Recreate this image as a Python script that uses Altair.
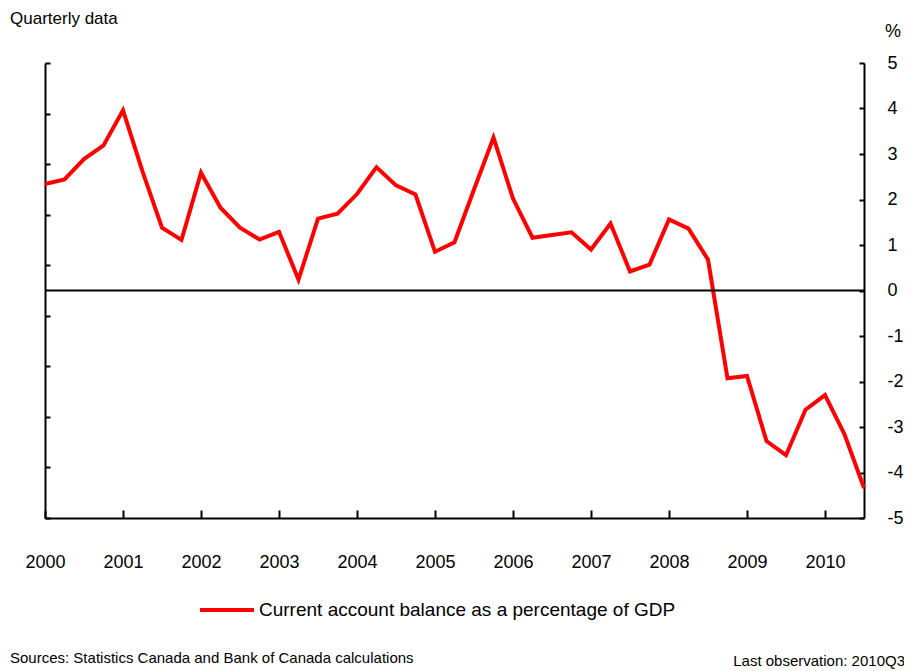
import altair as alt
import pandas as pd

# ---- data ----
quarters = [f"{y}Q{q}" for y in range(2000, 2011) for q in range(1, 5)][:43]
values = [2.34, 2.44, 2.89, 3.19,
          3.96, 2.62, 1.38, 1.11,
          2.59, 1.82, 1.38, 1.12,
          1.29, 0.24, 1.58, 1.69,
          2.12, 2.71, 2.31, 2.11,
          0.85, 1.06, 2.22, 3.36,
          2.02, 1.16, 1.22, 1.28,
          0.90, 1.47, 0.42, 0.57,
          1.56, 1.36, 0.68, -1.93,
          -1.88, -3.31, -3.62, -2.62,
          -2.30, -3.16, -4.34]
series_name = "Current account balance as a percentage of GDP"
year_ticks = list(range(2000, 2011))
right_ticks = list(range(-5, 6))
left_ticks = list(range(0, 10))
title_text = ["Quarterly data"]
unit_text = ["%"]
source_text = ["Sources: Statistics Canada and Bank of Canada calculations"]
lastobs_text = ["Last observation: 2010Q3"]

df = pd.DataFrame({
    "quarter": quarters,
    "t": [int(q[:4]) + (int(q[-1]) - 1) / 4 for q in quarters],
    "value": values,
    "series": series_name,
})

FONT = "Liberation Sans"

xscale = alt.Scale(domain=[2000, 2010.5], nice=False, zero=False)

line = alt.Chart(df).mark_line(strokeWidth=4, strokeJoin="miter").encode(
    x=alt.X("t:Q", scale=xscale,
            axis=alt.Axis(values=year_ticks, format="d", title=None, grid=False,
                          tickSize={"expr": "-8"}, tickWidth=2, tickColor="black",
                          domainWidth=2, domainColor="black",
                          labelFont=FONT, labelFontSize=18, labelColor="black",
                          labelPadding=43, labelFlush=False)),
    y=alt.Y("value:Q", scale=alt.Scale(domain=[-5, 5], nice=False),
            axis=alt.Axis(orient="right", values=right_ticks, title=None, grid=False,
                          tickSize={"expr": "-5"}, tickWidth=2, tickColor="black",
                          domainWidth=2, domainColor="black",
                          labelExpr="'' + datum.value",
                          labelFont=FONT, labelFontSize=18, labelColor="black",
                          labelAlign="left", labelPadding=28, labelFlush=False)),
    color=alt.Color("series:N",
                    scale=alt.Scale(domain=[series_name], range=["#ff0000"]),
                    legend=alt.Legend(orient="none", legendX=153, legendY=518,
                                      title=None, symbolType="stroke",
                                      symbolSize=2916, symbolStrokeWidth=4,
                                      labelFont=FONT, labelFontSize=19,
                                      labelColor="black", labelLimit=0,
                                      labelOffset=3, padding=0)),
)

zero = alt.Chart(pd.DataFrame({"z": [0]})).mark_rule(color="black", strokeWidth=2).encode(
    y=alt.Y("z:Q", scale=alt.Scale(domain=[-5, 5], nice=False), axis=None)
)

left_axis = alt.Chart(pd.DataFrame({"k": left_ticks})).mark_point(opacity=0).encode(
    y=alt.Y("k:Q", scale=alt.Scale(domain=[0, 9], nice=False),
            axis=alt.Axis(orient="left", values=left_ticks, labels=False, title=None,
                          grid=False, tickSize={"expr": "-5"}, tickWidth=2,
                          tickColor="black", domainWidth=2, domainColor="black"))
)

def label(text, x, y, align="left", size=18, baseline="alphabetic"):
    return alt.Chart(pd.DataFrame({"s": text})).mark_text(
        align=align, baseline=baseline, font=FONT, fontSize=size, color="black"
    ).encode(text="s:N", x=alt.value(x), y=alt.value(y))

t1 = label(title_text, -35, -39, size=17)
t2 = label(unit_text, 848, -31, align="center", baseline="middle")
t3 = label(source_text, -35, 600, size=15)
t4 = label(lastobs_text, 860, 603, align="right", size=15)

chart = alt.layer(left_axis, line, zero, t1, t2, t3, t4).resolve_scale(
    y="independent"
).properties(
    width=819, height=455,
    autosize=alt.AutoSizeParams(type="none"),
    padding={"left": 37, "top": 55, "right": 40, "bottom": 153},
).configure_view(strokeWidth=0)

chart.save("out.html", embed_options={"renderer": "svg", "actions": False})
